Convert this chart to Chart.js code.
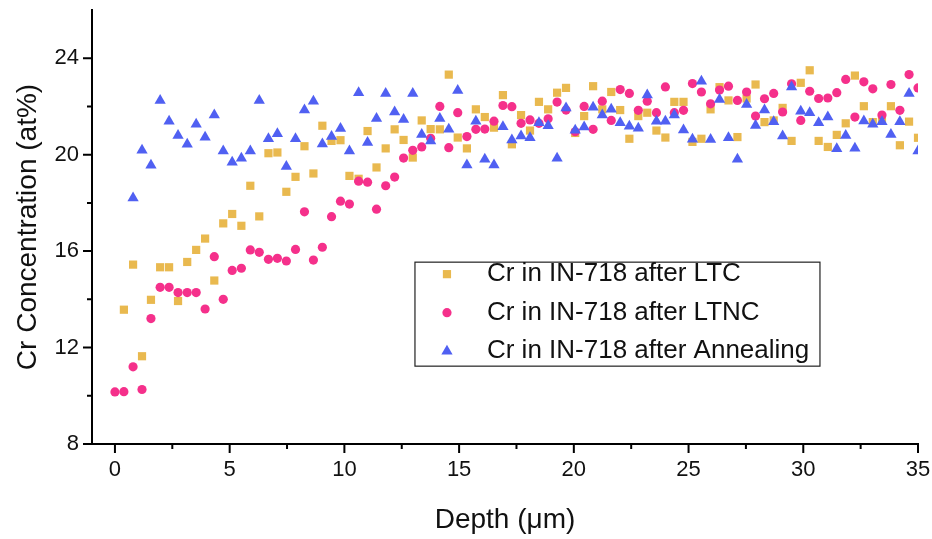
<!DOCTYPE html>
<html>
<head>
<meta charset="utf-8">
<script src="https://cdn.jsdelivr.net/npm/chart.js@4.4.1/dist/chart.umd.min.js"></script>
<style>
  html, body { margin: 0; padding: 0; background: #fff; }
</style>
</head>
<body>
<canvas id="chart" width="932" height="539"></canvas>
<script>
// depth grid (um) shared by the three profiles
const depth = [0, 0.39, 0.79, 1.18, 1.57, 1.97, 2.36, 2.75, 3.15, 3.54,
  3.93, 4.33, 4.72, 5.11, 5.51, 5.90, 6.29, 6.69, 7.08, 7.47,
  7.87, 8.26, 8.65, 9.04, 9.44, 9.83, 10.22, 10.62, 11.01, 11.40,
  11.80, 12.19, 12.58, 12.98, 13.37, 13.76, 14.16, 14.55, 14.94, 15.34,
  15.73, 16.12, 16.52, 16.91, 17.30, 17.70, 18.09, 18.48, 18.88, 19.27,
  19.66, 20.06, 20.45, 20.84, 21.24, 21.63, 22.02, 22.42, 22.81, 23.20,
  23.60, 23.99, 24.38, 24.78, 25.17, 25.56, 25.96, 26.35, 26.74, 27.13,
  27.53, 27.92, 28.31, 28.71, 29.10, 29.49, 29.89, 30.28, 30.67, 31.07,
  31.46, 31.85, 32.25, 32.64, 33.03, 33.43, 33.82, 34.21, 34.61, 35.00];

// Cr at% - after LTC (squares)
const crLTC = [null, 13.57, 15.44, 11.64, 13.98, 15.33, 15.33, 13.93, 15.55, 16.05,
  16.52, 14.78, 17.15, 17.54, 17.05, 18.71, 17.44, 20.06, 20.09, 18.46,
  19.08, 20.35, 19.22, 21.2, 20.57, 20.6, 19.12, 19.0, 20.98, 19.47,
  20.26, 21.05, 20.61, 19.88, 21.42, 21.06, 21.05, 23.32, 20.71, 20.26,
  21.88, 21.56, 21.12, 22.47, 20.43, 21.64, 21.0, 22.19, 21.88, 22.57,
  22.77, 20.9, 21.6, 22.84, 21.88, 22.6, 21.85, 20.66, 21.6, 21.74,
  21.0, 20.71, 22.19, 22.19, 20.53, 20.66, 21.88, 22.8, 22.25, 20.73,
  22.33, 22.91, 21.35, 21.42, 21.94, 20.57, 22.98, 23.5, 20.57, 20.32,
  20.82, 21.3, 23.28, 22.01, 21.35, 21.5, 22.01, 20.39, 21.37, 20.7];

// Cr at% - after LTNC (circles)
const crLTNC = [10.16, 10.17, 11.2, 10.26, 13.2, 14.5, 14.5, 14.28, 14.28, 14.28,
  13.6, 15.77, 14.0, 15.2, 15.29, 16.05, 15.95, 15.66, 15.7, 15.59,
  16.07, 17.63, 15.63, 16.16, 17.43, 18.07, 17.95, 18.9, 18.86, 17.74,
  18.71, 19.07, 19.86, 20.18, 20.32, 20.68, 22.0, 20.29, 21.74, 20.75,
  21.05, 21.06, 21.39, 22.04, 21.99, 21.3, 21.44, 21.3, 21.49, 22.18,
  21.85, 20.95, 22.0, 21.05, 22.22, 21.42, 22.7, 22.54, 21.84, 22.22,
  21.74, 22.81, 21.74, 21.84, 22.95, 22.6, 22.11, 22.68, 22.84, 22.25,
  22.6, 21.6, 22.32, 22.54, 21.77, 22.94, 21.42, 22.63, 22.33, 22.35,
  22.57, 23.12, 21.56, 23.02, 22.73, 21.64, 22.91, 21.84, 23.32, 22.77];

// Cr at% - after annealing (triangles)
const crAnneal = [null, null, 18.2, 20.18, 19.56, 22.25, 21.39, 20.79, 20.43, 21.26,
  20.72, 21.64, 20.15, 19.69, 19.85, 20.15, 22.25, 20.66, 20.87, 19.51,
  20.66, 21.85, 22.22, 20.44, 20.75, 21.09, 20.15, 22.57, 20.5, 21.5,
  22.54, 21.77, 21.46, 22.54, 20.84, 20.57, 21.5, 21.05, 22.66, 19.57,
  21.39, 19.81, 19.57, 21.16, 20.61, 20.77, 20.7, 21.32, 21.2, 19.85,
  21.94, 21.01, 21.15, 21.97, 21.64, 21.88, 21.32, 21.18, 21.1, 22.47,
  21.39, 21.39, 21.64, 21.02, 20.64, 23.05, 20.63, 22.29, 20.7, 19.81,
  22.08, 21.21, 21.85, 21.37, 20.77, 22.81, 21.8, 21.74, 21.32, 21.56,
  20.25, 20.8, 20.27, 21.4, 21.26, 21.37, 20.84, 21.37, 22.54, 20.15];

const seriesNames = ['Cr in IN-718 after LTC', 'Cr in IN-718 after LTNC', 'Cr in IN-718 after Annealing'];
const seriesColors = ['#E9B94F', '#F5308B', '#5060F2'];
const seriesShapes = ['rect', 'circle', 'triangle'];
const seriesRadius = [5.8, 4.6, 6.5];

const xMajor = [0, 5, 10, 15, 20, 25, 30, 35];
const xMinor = [2.5, 7.5, 12.5, 17.5, 22.5, 27.5, 32.5];
const yMajor = [8, 12, 16, 20, 24];
const yMinor = [10, 14, 18, 22];

const fontFamily = '"Liberation Sans", Arial, Helvetica, sans-serif';

function toPoints(values) {
    let pts = [];
    values.forEach((v, i) => {
        if (v !== null) pts.push({ x: depth[i], y: v });
    });
    return pts;
}

// draws a marker shape, used for the legend
function drawMarker(ctx, shape, x, y, r, color) {
    ctx.fillStyle = color;
    ctx.beginPath();
    if (shape === 'rect') {
        let s = r * Math.SQRT1_2;
        ctx.rect(x - s, y - s, 2 * s, 2 * s);
    } else if (shape === 'circle') {
        ctx.arc(x, y, r, 0, Math.PI * 2);
    } else {
        ctx.moveTo(x, y - r);
        ctx.lineTo(x + r * Math.sin(Math.PI * 2 / 3), y - r * Math.cos(Math.PI * 2 / 3));
        ctx.lineTo(x + r * Math.sin(Math.PI * 4 / 3), y - r * Math.cos(Math.PI * 4 / 3));
        ctx.closePath();
    }
    ctx.fill();
}

// outward tick marks, long for labelled ticks and short in between
const axisTicks = {
    id: 'axisTicks',
    afterDraw(chart) {
        const { ctx, scales: { x, y } } = chart;
        ctx.save();
        ctx.strokeStyle = '#000';
        ctx.lineWidth = 2;
        ctx.beginPath();
        xMajor.forEach(v => { let p = x.getPixelForValue(v); ctx.moveTo(p, x.top); ctx.lineTo(p, x.top + 9); });
        xMinor.forEach(v => { let p = x.getPixelForValue(v); ctx.moveTo(p, x.top); ctx.lineTo(p, x.top + 5); });
        yMajor.forEach(v => { let p = y.getPixelForValue(v); ctx.moveTo(y.right, p); ctx.lineTo(y.right - 9, p); });
        yMinor.forEach(v => { let p = y.getPixelForValue(v); ctx.moveTo(y.right, p); ctx.lineTo(y.right - 5, p); });
        ctx.stroke();
        ctx.restore();
    }
};

// boxed legend sitting inside the plot
const boxLegend = {
    id: 'boxLegend',
    afterDraw(chart) {
        const { ctx, chartArea: a } = chart;
        let left = a.left + (a.right - a.left) * 0.391;
        let top = a.top + (a.bottom - a.top) * 0.581;
        let w = 405, h = 104, rowH = 38.5;
        ctx.save();
        ctx.strokeStyle = '#222';
        ctx.lineWidth = 1.2;
        ctx.strokeRect(left, top, w, h);
        ctx.font = '26px ' + fontFamily;
        ctx.textBaseline = 'middle';
        seriesNames.forEach((name, i) => {
            let cy = top + 12 + rowH * i;
            drawMarker(ctx, seriesShapes[i], left + 32, cy, seriesRadius[i], seriesColors[i]);
            ctx.fillStyle = '#111';
            ctx.fillText(name, left + 72, cy);
        });
        ctx.restore();
    }
};

const ctx = document.getElementById('chart');
const datasets = [crLTC, crLTNC, crAnneal].map((vals, i) => ({
    label: seriesNames[i],
    data: toPoints(vals),
    pointStyle: seriesShapes[i],
    pointRadius: seriesRadius[i],
    backgroundColor: seriesColors[i],
    borderColor: seriesColors[i],
    borderWidth: 0,
    showLine: false,
    order: 3 - i
}));

new Chart(ctx, {
    type: 'scatter',
    data: { datasets: datasets },
    plugins: [axisTicks, boxLegend],
    options: {
        responsive: false,
        animation: false,
        layout: { padding: { left: 0, right: 14, top: 10, bottom: 0 } },
        plugins: {
            legend: { display: false },
            tooltip: { enabled: false }
        },
        scales: {
            x: {
                type: 'linear',
                min: -1,
                max: 35,
                afterBuildTicks: s => { s.ticks = xMajor.map(v => ({ value: v })); },
                afterFit: s => { s.height = 95; s.paddingLeft = 0; s.paddingRight = 0; },
                grid: { display: false, drawTicks: false },
                border: { display: true, color: '#000', width: 2 },
                ticks: { color: '#111', padding: 13, maxRotation: 0, autoSkip: false,
                    font: { family: fontFamily, size: 22 } },
                title: { display: true, text: 'Depth (\u03bcm)', color: '#111',
                    font: { family: fontFamily, size: 28 }, padding: { top: 0, bottom: 2 } }
            },
            y: {
                type: 'linear',
                min: 8,
                max: 26,
                afterBuildTicks: s => { s.ticks = yMajor.map(v => ({ value: v })); },
                afterFit: s => { s.width = 92; s.paddingTop = 0; s.paddingBottom = 0; },
                grid: { display: false, drawTicks: false },
                border: { display: true, color: '#000', width: 2 },
                ticks: { color: '#111', padding: 13, autoSkip: false,
                    font: { family: fontFamily, size: 22 } },
                title: { display: true, text: 'Cr Concentration (at%)', color: '#111',
                    font: { family: fontFamily, size: 28 }, padding: { top: 11, bottom: 0 } }
            }
        }
    }
});
</script>
</body>
</html>
